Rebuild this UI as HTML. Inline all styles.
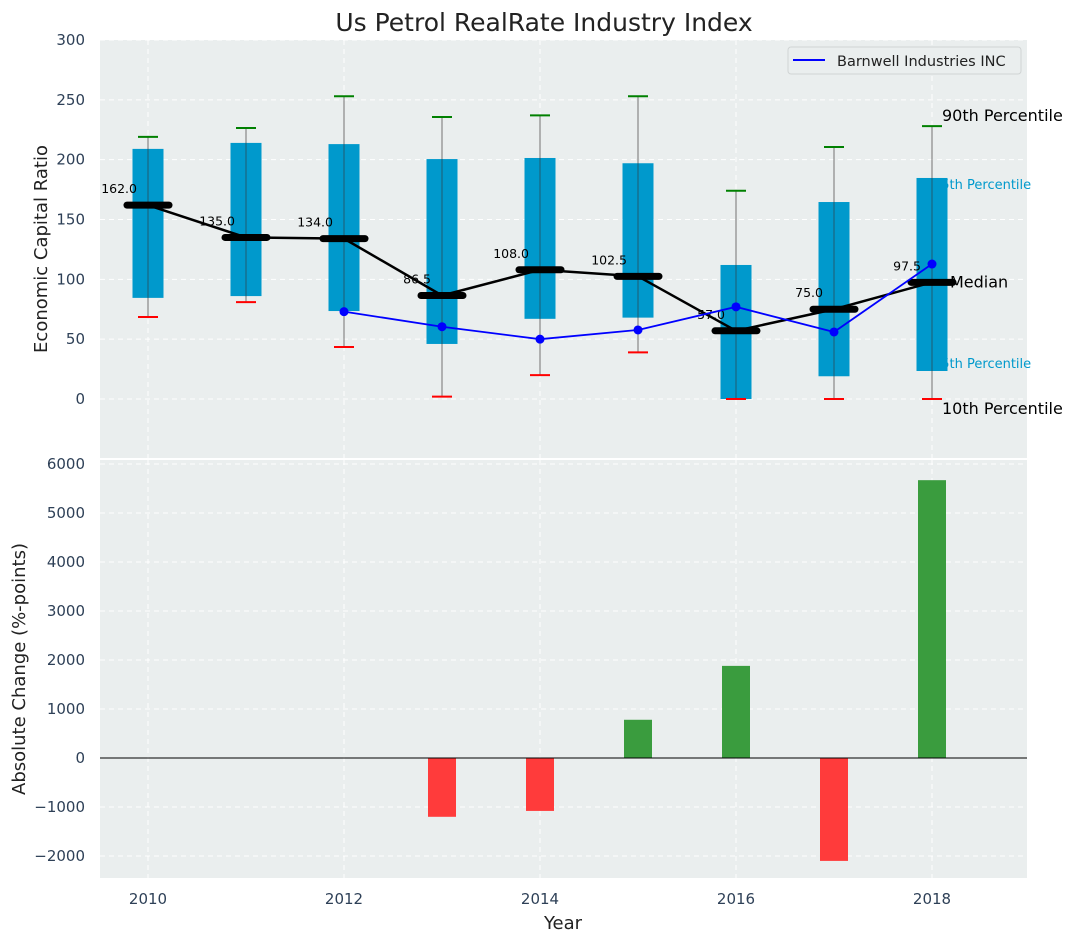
<!DOCTYPE html>
<html><head><meta charset="utf-8"><style>
body{margin:0;background:#fff;}
svg text{font-family:"DejaVu Sans","Liberation Sans",sans-serif;}
</style></head><body>
<svg id="chart" width="1077" height="942" xmlns="http://www.w3.org/2000/svg">
<text x="544" y="31" text-anchor="middle" font-size="25" fill="#222">Us Petrol RealRate Industry Index</text>
<rect x="100" y="40" width="927" height="418" fill="#eaeeee"/>
<rect x="100" y="460" width="927" height="418" fill="#eaeeee"/>
<g id="topG"></g><g id="botG"></g>
<text transform="translate(47,249) rotate(-90)" text-anchor="middle" font-size="18" fill="#222">Economic Capital Ratio</text>
<text transform="translate(25,669) rotate(-90)" text-anchor="middle" font-size="18" fill="#222">Absolute Change (%-points)</text>
<text x="563" y="929" text-anchor="middle" font-size="18" fill="#222">Year</text>
<g>
<rect x="788" y="47" width="233" height="27" rx="3" fill="#eaeeee" stroke="#d0d4d4"/>
<line x1="793" y1="60" x2="825" y2="60" stroke="#0000ff" stroke-width="2"/>
<text x="837" y="66" font-size="14.5" fill="#222">Barnwell Industries INC</text>
</g>
</svg>
<script>
const years=[2010,2011,2012,2013,2014,2015,2016,2017,2018];
const p10=[68.5,81,43.5,2,20,39,0,0,0];
const p25=[84.5,86,73.5,46,67,68,0,19,23.4];
const medians=[162,135,134,86.5,108,102.5,57,75,97.5];
const p75=[209,214,213,200.5,201.4,197,112,164.6,184.7];
const p90=[219,226.5,253,235.6,237,253,174,210.6,228];
const bwYears=[2012,2013,2014,2015,2016,2017,2018];
const bwValues=[73,60.4,50,57.7,77,56,112.8];
const chgYears=[2013,2014,2015,2016,2017,2018];
const chgValues=[-1200,-1080,780,1880,-2100,5670];
const topTicks=[0,50,100,150,200,250,300];
const botTicks=[-2000,-1000,0,1000,2000,3000,4000,5000,6000];
const xTicks=[2010,2012,2014,2016,2018];

const NS="http://www.w3.org/2000/svg";
const X=v=>148+(v-2010)*98;
const Yt=v=>399-v*1.1967;
const Yb=v=>758-v*0.049;
function mk(parent,tag,attrs,text){const e=document.createElementNS(NS,tag);for(const k in attrs)e.setAttribute(k,attrs[k]);if(text!==undefined)e.textContent=text;parent.appendChild(e);return e;}
const topG=document.getElementById('topG'),botG=document.getElementById('botG');
function draw(){
topTicks.forEach(t=>{
 const g=mk(topG,'line',{x1:100,x2:1027,y1:Yt(t),y2:Yt(t),stroke:'#fff','stroke-dasharray':'5,4','stroke-width':1});
 
 
 const l=mk(topG,'text',{x:85,y:Yt(t)+5,'text-anchor':'end','font-size':15,fill:'#2e4057'},t);
 
 
});
botTicks.forEach(t=>{
 const g=mk(botG,'line',{x1:100,x2:1027,y1:Yb(t),y2:Yb(t),stroke:'#fff','stroke-dasharray':'5,4','stroke-width':1});
 
 
 const l=mk(botG,'text',{x:85,y:Yb(t)+5,'text-anchor':'end','font-size':15,fill:'#2e4057'},t<0?'\u2212'+(-t):t);
 
 
});
xTicks.forEach(t=>{
 [[40,458,topG],[460,878,botG]].forEach(([a,b,p])=>{
  const g=mk(p,'line',{x1:X(t),x2:X(t),y1:a,y2:b,stroke:'#fff','stroke-dasharray':'5,4','stroke-width':1});
  
  
 });
 const l=mk(botG,'text',{x:X(t),y:904,'text-anchor':'middle','font-size':15,fill:'#2e4057'},t);
 
 
});
[['75th Percentile',p75[8],11],['25th Percentile',p25[8],-3]].forEach(([s,v,dy])=>{
 const t=mk(topG,'text',{x:933,y:Yt(v)+dy,'font-size':13,fill:'#0099cc'},s);
 
 
});
years.forEach((y,i)=>{
 const w=mk(topG,'line',{x1:X(y),x2:X(y),y1:Yt(p10[i]),y2:Yt(p90[i]),stroke:'#888','stroke-width':1.2});
 
 
 const b=mk(topG,'rect',{x:X(y)-15.5,y:Yt(p75[i]),width:31,height:Yt(p25[i])-Yt(p75[i]),fill:'#0099cc'});
 
 
 const w2=mk(topG,'line',{x1:X(y),x2:X(y),y1:Yt(p75[i]),y2:Yt(p25[i]),stroke:'#333','stroke-opacity':0.5,'stroke-width':1.2});
 
 
 const c1=mk(topG,'line',{x1:X(y)-10,x2:X(y)+10,y1:Yt(p90[i]),y2:Yt(p90[i]),stroke:'#008000','stroke-width':2});
 
 
 const c2=mk(topG,'line',{x1:X(y)-10,x2:X(y)+10,y1:Yt(p10[i]),y2:Yt(p10[i]),stroke:'#ff0000','stroke-width':2});
 
 
});
const mp=mk(topG,'polyline',{points:years.map((y,i)=>X(y)+','+Yt(medians[i])).join(' '),fill:'none',stroke:'#000','stroke-width':2.5});


years.forEach((y,i)=>{
 const m=mk(topG,'line',{x1:X(y)-21,x2:X(y)+21,y1:Yt(medians[i]),y2:Yt(medians[i]),stroke:'#000','stroke-width':7,'stroke-linecap':'round'});
 
 
 const t=mk(topG,'text',{x:X(y)-11,y:Yt(medians[i])-12,'text-anchor':'end','font-size':12.5,fill:'#000'},medians[i].toFixed(1));
 
 
});
const bp=mk(topG,'polyline',{points:bwYears.map((y,i)=>X(y)+','+Yt(bwValues[i])).join(' '),fill:'none',stroke:'#0000ff','stroke-width':1.8});


bwYears.forEach((y,i)=>{
 const c=mk(topG,'circle',{cx:X(y),cy:Yt(bwValues[i]),r:4.5,fill:'#0000ff'});
 
 
});
[['90th Percentile',p90[8],942,-5],['Median',medians[8],950,5],['10th Percentile',p10[8],942,15]].forEach(([s,v,x,dy])=>{
 const t=mk(topG,'text',{x:x,y:Yt(v)+dy,'font-size':16,fill:'#000'},s);
 
 
});
chgYears.forEach((y,i)=>{
 const v=chgValues[i];
 const r=mk(botG,'rect',{x:X(y)-14,y:Math.min(Yb(0),Yb(v)),width:28,height:Math.abs(Yb(v)-Yb(0)),fill:v>=0?'#3a9c3e':'#ff3b3b'});
 
 
});
const z=mk(botG,'line',{x1:100,x2:1027,y1:Yb(0),y2:Yb(0),stroke:'#000','stroke-width':1});


}
try{draw();}catch(e){console.error(e);}
</script>
</body></html>
